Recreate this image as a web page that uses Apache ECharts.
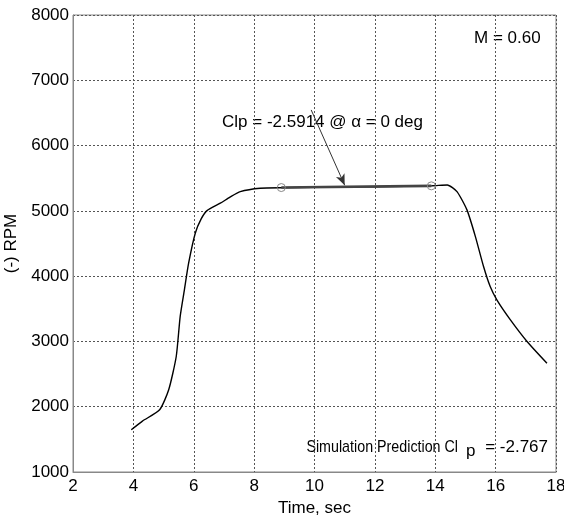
<!doctype html>
<html>
    <head>
        <meta charset="utf-8">
        <title>RPM vs Time</title>
        <script src="https://cdn.jsdelivr.net/npm/echarts@6/dist/echarts.min.js"></script>
        <style>
            html, body { margin: 0; padding: 0; background: #fff; }
            #main { width: 564px; height: 516px; }
        </style>
    </head>
    <body>
        <div id="main"></div>
        <script>
            // values
            var time = [3.93, 4.3, 4.87, 5.17, 5.42, 5.55, 5.69, 5.83, 6.05, 6.25, 6.44, 6.88, 7.2, 7.54, 8.2,
                        9, 10, 11, 12, 13, 13.9, 14.4, 14.72, 15.05, 15.33, 15.6, 15.82, 16.04, 16.49, 17.04, 17.7];
            var rpm = [1646, 1780, 1953, 2259, 2769, 3381, 3790, 4198, 4658, 4880, 5004, 5117, 5210, 5295, 5347,
                       5355, 5360, 5365, 5370, 5378, 5385, 5397, 5295, 5015, 4606, 4147, 3840, 3637, 3330, 3000, 2667];
            var fitTime = [8.9, 13.87];
            var fitRpm = [5357, 5383];
            var arrowFrom = [9.89, 6546];
            var arrowTo = [11.0, 5392];

            var font = 'Liberation Sans, Arial, sans-serif';
            var curve = time.map(function (t, i) { return [t, rpm[i]]; });
            var fit = fitTime.map(function (t, i) { return [t, fitRpm[i]]; });

            var myChart = echarts.init(document.getElementById('main'));

            var option = {
                animation: false,
                backgroundColor: '#fff',
                grid: {
                    left: 73, right: 8, top: 15, bottom: 44,
                    outerBoundsMode: 'none',
                    show: true, borderColor: '#888', borderWidth: 1
                },
                xAxis: {
                    type: 'value',
                    min: 2, max: 18, interval: 2,
                    name: 'Time, sec',
                    nameLocation: 'middle',
                    nameGap: 25,
                    nameTextStyle: { color: '#000', fontSize: 17, fontFamily: font },
                    axisLine: { lineStyle: { color: '#888', width: 1 } },
                    axisTick: { show: false },
                    axisLabel: { color: '#000', fontSize: 17, fontFamily: font, margin: 6 },
                    splitLine: { show: true, lineStyle: { type: [2, 2], color: '#555', width: 1 } }
                },
                yAxis: {
                    type: 'value',
                    min: 1000, max: 8000, interval: 1000,
                    name: '(-) RPM',
                    nameLocation: 'middle',
                    nameGap: 40,
                    nameTextStyle: { color: '#000', fontSize: 17, fontFamily: font },
                    axisLine: { show: true, lineStyle: { color: '#888', width: 1 } },
                    axisTick: { show: false },
                    axisLabel: {
                        color: '#000', fontSize: 17, fontFamily: font, margin: 4,
                        formatter: function (v) { return String(v); }
                    },
                    splitLine: { show: true, lineStyle: { type: [2, 2], color: '#555', width: 1 } }
                },
                series: [
                    {
                        type: 'line',
                        data: curve,
                        showSymbol: false,
                        smooth: 0.2,
                        lineStyle: { color: '#000', width: 1.4 },
                        z: 2
                    },
                    {
                        type: 'line',
                        data: fit,
                        symbol: 'circle',
                        symbolSize: 8,
                        showSymbol: true,
                        itemStyle: { color: 'rgba(0,0,0,0)', borderColor: '#888', borderWidth: 1 },
                        lineStyle: { color: '#444', width: 2.6 },
                        z: 3,
                        markLine: {
                            silent: true,
                            symbol: ['none', 'arrow'],
                            symbolSize: [7, 11],
                            label: { show: false },
                            lineStyle: { color: '#333', width: 1, type: 'solid' },
                            data: [[{ coord: arrowFrom }, { coord: arrowTo }]]
                        }
                    }
                ],
                graphic: [
                    {
                        type: 'text', left: 222, top: 114,
                        style: { text: 'Clp = -2.5914 @ \u03b1 = 0 deg', fill: '#000', font: '17px ' + font }
                    },
                    {
                        type: 'text', left: 474, top: 30,
                        style: { text: 'M = 0.60', fill: '#000', font: '17px ' + font }
                    },
                    {
                        type: 'text', x: 458, y: 447, scaleX: 0.84,
                        style: {
                            text: 'Simulation Prediction Cl', fill: '#000', font: '17px ' + font,
                            align: 'right', verticalAlign: 'middle'
                        }
                    },
                    {
                        type: 'text', x: 466, y: 451,
                        style: {
                            text: 'p', fill: '#000', font: '17px ' + font,
                            align: 'left', verticalAlign: 'middle'
                        }
                    },
                    {
                        type: 'text', x: 548, y: 447,
                        style: {
                            text: '= -2.767', fill: '#000', font: '17px ' + font,
                            align: 'right', verticalAlign: 'middle'
                        }
                    }
                ]
            };

            myChart.setOption(option);
        </script>
    </body>
</html>
